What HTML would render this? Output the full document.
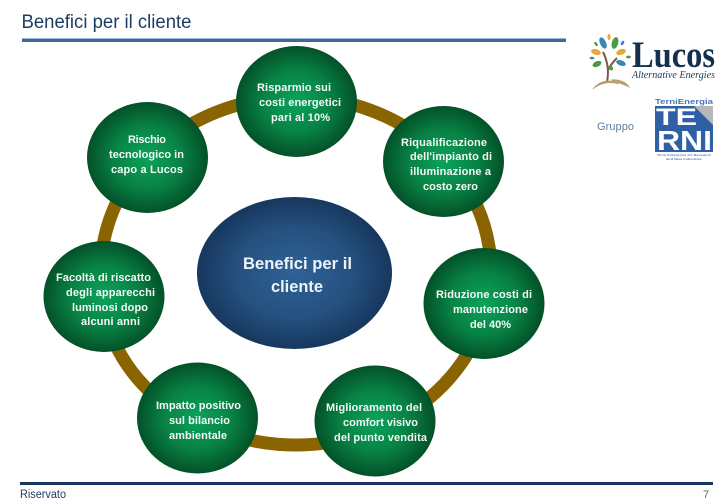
<!DOCTYPE html>
<html lang="it">
<head>
<meta charset="utf-8">
<title>Benefici per il cliente</title>
<style>
html,body{margin:0;padding:0;background:#fff;width:728px;height:504px;overflow:hidden}
svg{display:block;font-family:"Liberation Sans",sans-serif}
.w{fill:#f4f8f4;font-weight:bold;font-size:11px}
.c{fill:#eef3f8;font-weight:bold;font-size:16.5px}
</style>
</head>
<body>
<svg width="728" height="504" viewBox="0 0 728 504" xmlns="http://www.w3.org/2000/svg">
<defs>
<radialGradient id="g" cx="50%" cy="50%" r="50%">
<stop offset="0" stop-color="#0aa35a"/>
<stop offset=".55" stop-color="#088345"/>
<stop offset="1" stop-color="#035128"/>
</radialGradient>
<radialGradient id="b" cx="50%" cy="50%" r="50%">
<stop offset="0" stop-color="#2f6298"/>
<stop offset=".6" stop-color="#25507f"/>
<stop offset="1" stop-color="#17375e"/>
</radialGradient>
</defs>

<rect width="728" height="504" fill="#fff"/>
<text x="21.5" y="28" font-size="19" fill="#1f3d63" textLength="170" lengthAdjust="spacingAndGlyphs">Benefici per il cliente</text>
<rect x="22" y="38.5" width="544" height="3.5" fill="#3d6a9e"/>

<path d="M104 301.7 A195 174 0 1 1 200 422.5" fill="none" stroke="#8a6400" stroke-width="13"/>
<path d="M104 310 Q115 365 165 405" fill="none" stroke="#8a6400" stroke-width="13"/>

<ellipse cx="294.5" cy="273" rx="97.5" ry="76" fill="url(#b)"/>
<ellipse cx="296.5" cy="101.5" rx="60.5" ry="55.5" fill="url(#g)"/>
<ellipse cx="147.5" cy="157.5" rx="60.5" ry="55.5" fill="url(#g)"/>
<ellipse cx="443.5" cy="161.5" rx="60.5" ry="55.5" fill="url(#g)"/>
<ellipse cx="104" cy="296.5" rx="60.5" ry="55.5" fill="url(#g)"/>
<ellipse cx="484" cy="303.5" rx="60.5" ry="55.5" fill="url(#g)"/>
<ellipse cx="197.5" cy="418" rx="60.5" ry="55.5" fill="url(#g)"/>
<ellipse cx="375" cy="421" rx="60.5" ry="55.5" fill="url(#g)"/>

<text class="c" x="243" y="269" textLength="109" lengthAdjust="spacingAndGlyphs">Benefici per il</text>
<text class="c" x="271" y="292" textLength="52" lengthAdjust="spacingAndGlyphs">cliente</text>

<text class="w" x="257" y="91" textLength="74" lengthAdjust="spacing">Risparmio sui</text>
<text class="w" x="259" y="106" textLength="82" lengthAdjust="spacing">costi energetici</text>
<text class="w" x="271" y="121" textLength="59" lengthAdjust="spacing">pari al 10%</text>

<text class="w" x="128" y="143" textLength="38" lengthAdjust="spacing">Rischio</text>
<text class="w" x="109" y="158" textLength="75" lengthAdjust="spacing">tecnologico in</text>
<text class="w" x="111" y="173" textLength="72" lengthAdjust="spacing">capo a Lucos</text>

<text class="w" x="401" y="146" textLength="86" lengthAdjust="spacing">Riqualificazione</text>
<text class="w" x="410" y="160" textLength="82" lengthAdjust="spacing">dell'impianto di</text>
<text class="w" x="410" y="175" textLength="81" lengthAdjust="spacing">illuminazione a</text>
<text class="w" x="423" y="190" textLength="55" lengthAdjust="spacing">costo zero</text>

<text class="w" x="56" y="281" textLength="95" lengthAdjust="spacing">Facoltà di riscatto</text>
<text class="w" x="66" y="296" textLength="89" lengthAdjust="spacing">degli apparecchi</text>
<text class="w" x="72" y="311" textLength="76" lengthAdjust="spacing">luminosi dopo</text>
<text class="w" x="81" y="325" textLength="59" lengthAdjust="spacing">alcuni anni</text>

<text class="w" x="436" y="298" textLength="96" lengthAdjust="spacing">Riduzione costi di</text>
<text class="w" x="453" y="313" textLength="75" lengthAdjust="spacing">manutenzione</text>
<text class="w" x="470" y="328" textLength="41" lengthAdjust="spacing">del 40%</text>

<text class="w" x="156" y="409" textLength="85" lengthAdjust="spacing">Impatto positivo</text>
<text class="w" x="169" y="424" textLength="61" lengthAdjust="spacing">sul bilancio</text>
<text class="w" x="169" y="439" textLength="58" lengthAdjust="spacing">ambientale</text>

<text class="w" x="326" y="411" textLength="96" lengthAdjust="spacing">Miglioramento del</text>
<text class="w" x="343" y="426" textLength="75" lengthAdjust="spacing">comfort visivo</text>
<text class="w" x="334" y="441" textLength="93" lengthAdjust="spacing">del punto vendita</text>

<!-- Lucos logo -->
<g>
<path d="M607 82 C609 72 608 62 603 52 M608 70 C611 64 614 61 617 58" fill="none" stroke="#7a5a44" stroke-width="2"/>
<path d="M593 89 C600 80 610 79 619 84 C610 81 600 83 593 89Z M611 80 C619 79 626 82 629 87 C623 84 617 82 611 80Z" fill="#b3a06e" stroke="#b3a06e" stroke-width=".8"/>
<ellipse cx="603" cy="43" rx="3" ry="6" fill="#3a85b5" transform="rotate(-25 603 43)"/>
<ellipse cx="615" cy="43" rx="3.2" ry="6" fill="#4b9a45" transform="rotate(15 615 43)"/>
<ellipse cx="609" cy="37" rx="1.6" ry="3" fill="#e6a83c"/>
<ellipse cx="596" cy="44" rx="1.3" ry="2.4" fill="#4b9a45" transform="rotate(-35 596 44)"/>
<ellipse cx="622.5" cy="43" rx="1.4" ry="2.5" fill="#3a85b5" transform="rotate(30 622.5 43)"/>
<ellipse cx="596" cy="52" rx="5" ry="2.8" fill="#e6a83c" transform="rotate(15 596 52)"/>
<ellipse cx="621" cy="52" rx="5" ry="2.8" fill="#e6a83c" transform="rotate(-20 621 52)"/>
<ellipse cx="592" cy="58" rx="2.4" ry="1.3" fill="#3a85b5"/>
<ellipse cx="628.5" cy="57" rx="2.4" ry="1.4" fill="#4b9a45"/>
<ellipse cx="597" cy="64" rx="4.8" ry="2.7" fill="#4b9a45" transform="rotate(-25 597 64)"/>
<ellipse cx="621" cy="63" rx="5" ry="2.6" fill="#3a85b5" transform="rotate(20 621 63)"/>
<ellipse cx="611" cy="68" rx="1.9" ry="2.6" fill="#4b9a45" transform="rotate(-25 611 68)"/>
<text x="632" y="67" font-family="Liberation Serif,serif" font-weight="bold" font-size="37" fill="#15304f" textLength="83" lengthAdjust="spacingAndGlyphs">Lucos</text>
<text x="632" y="78" font-family="Liberation Serif,serif" font-style="italic" font-size="10" fill="#1f3d63" textLength="83" lengthAdjust="spacingAndGlyphs">Alternative Energies</text>
</g>

<text x="597" y="130" font-size="11" fill="#5f7f9f" textLength="37" lengthAdjust="spacing">Gruppo</text>

<!-- TerniEnergia logo -->
<g>
<text x="655" y="104" font-size="7.6" font-weight="bold" fill="#4a78b5" textLength="58" lengthAdjust="spacingAndGlyphs">TerniEnergia</text>
<rect x="655" y="106" width="58" height="46" fill="#2f5fa5"/>
<path d="M694 106 H713 V125 Z" fill="#b5b7ba"/>
<text x="656" y="125" font-size="24" font-weight="bold" fill="#fff" textLength="41" lengthAdjust="spacingAndGlyphs">TE</text>
<text x="657" y="150" font-size="28" font-weight="bold" fill="#fff" textLength="55" lengthAdjust="spacingAndGlyphs">RNI</text>
<text x="657" y="156" font-size="3" font-weight="bold" fill="#5b7fae" textLength="54" lengthAdjust="spacingAndGlyphs">Terni Enterprise for Research</text>
<text x="666" y="160" font-size="3" font-weight="bold" fill="#5b7fae" textLength="36" lengthAdjust="spacingAndGlyphs">and New Industries</text>
</g>

<rect x="20" y="482" width="693" height="3" fill="#17375e"/>
<text x="20" y="498" font-size="11.5" fill="#1f3d63" textLength="46" lengthAdjust="spacingAndGlyphs">Riservato</text>
<text x="703" y="498" font-size="11" fill="#5a6b7a">7</text>
</svg>
</body>
</html>
